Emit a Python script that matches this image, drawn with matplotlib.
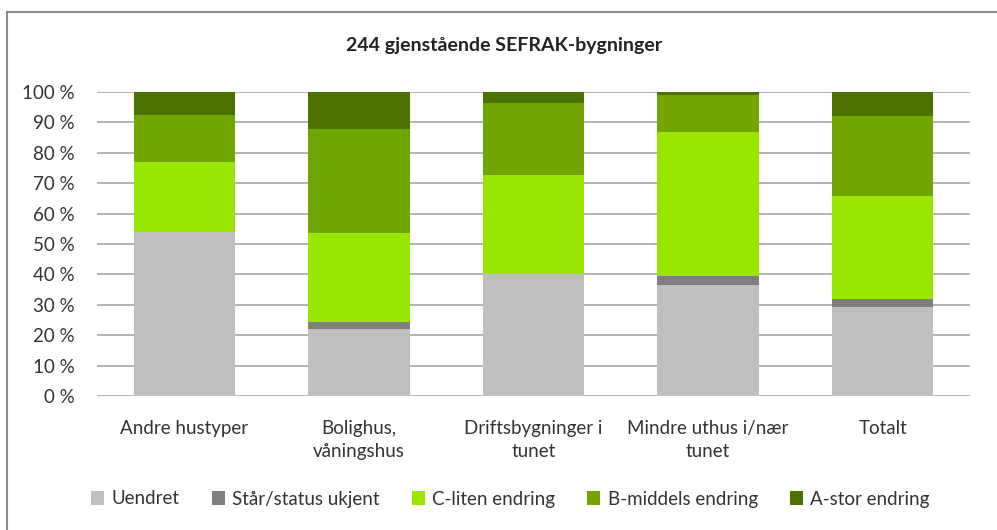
import numpy as np
import matplotlib.pyplot as plt
from matplotlib.patches import Rectangle

plt.rcParams['font.family'] = ['Lato', 'DejaVu Sans']

# Data (percent)
kategorier = ['Andre hustyper', 'Bolighus,\nvåningshus', 'Driftsbygninger i\ntunet',
              'Mindre uthus i/nær\ntunet', 'Totalt']
serier = ['Uendret', 'Står/status ukjent', 'C-liten endring', 'B-middels endring', 'A-stor endring']
uendret = [53.8, 22.0, 40.0, 36.6, 29.3]
staar = [0.0, 2.4, 0.0, 3.0, 2.6]
c_liten = [23.1, 29.3, 32.7, 47.4, 34.0]
b_middels = [15.4, 34.1, 23.6, 12.0, 26.3]
a_stor = [7.7, 12.2, 3.7, 1.0, 7.8]
farger = ['#bfbfbf', '#7f7f7f', '#99e600', '#71a600', '#4b7100']

fig = plt.figure(figsize=(9.97, 5.30), dpi=100)
ax = fig.add_axes([97 / 997, 1 - 396 / 530, 873 / 997, 304 / 530])

x = np.arange(len(kategorier))
bunn = np.zeros(len(kategorier))
for navn, verdier, farge in zip(serier, [uendret, staar, c_liten, b_middels, a_stor], farger):
    ax.bar(x, verdier, bottom=bunn, width=0.58, color=farge, label=navn, zorder=3)
    bunn += np.array(verdier)

ax.set_xlim(-0.5, len(kategorier) - 0.5)
ax.set_ylim(0, 100)
ax.set_yticks(range(0, 101, 10))
ax.set_yticklabels([f'{v} %' for v in range(0, 101, 10)], fontsize=13.5, color='#333333')
ax.set_xticks(x)
ax.set_xticklabels(kategorier, fontsize=13.5, color='#333333', linespacing=1.45)
ax.tick_params(axis='both', length=0)
ax.tick_params(axis='x', pad=17)
ax.tick_params(axis='y', pad=16)
ax.yaxis.grid(True, color='#a6a6a6', linewidth=1.2, zorder=0)
for s in ax.spines.values():
    s.set_visible(False)

fig.text(0.506, 1 - 45 / 530, '244 gjenstående SEFRAK-bygninger', ha='center', va='center',
         fontsize=14, fontweight='bold', color='#222222')

handles, labels = ax.get_legend_handles_labels()
fig.legend(handles, labels, loc='center', bbox_to_anchor=(0.512, 1 - 499 / 530), ncol=5,
           frameon=False, fontsize=13.5, handlelength=0.7, handleheight=0.7,
           handletextpad=0.4, columnspacing=1.7, labelcolor='#333333')

# outer chart border (only top/left visible in the cropped image)
fig.patches.append(Rectangle((7 / 997, -0.1), 1.2, 1.1 - 12 / 530, transform=fig.transFigure,
                             fill=False, edgecolor='#8c8c8c', linewidth=1.5))

fig.savefig('out.png', dpi=100)
